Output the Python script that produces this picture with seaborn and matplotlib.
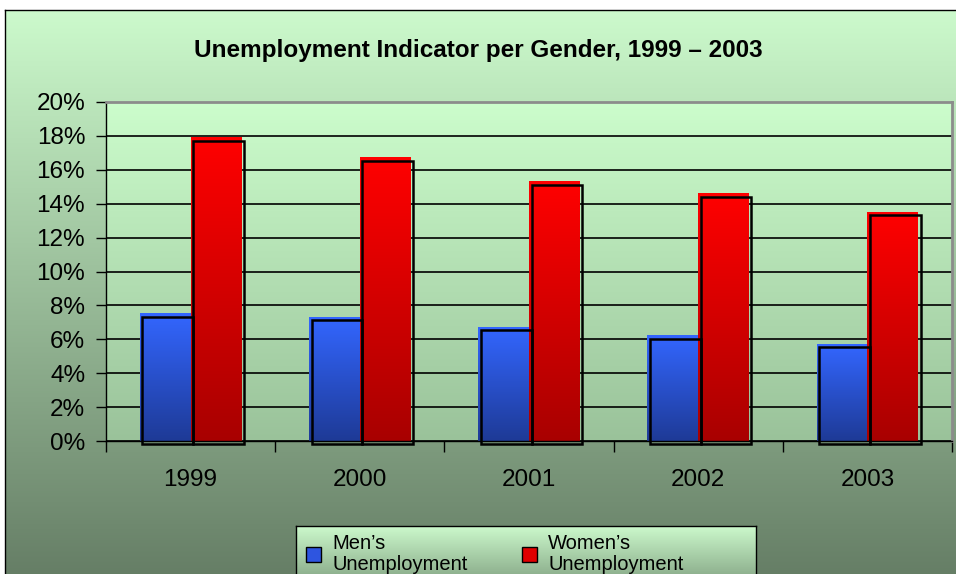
import numpy as np
import pandas as pd
import matplotlib
matplotlib.use("Agg")
import matplotlib.pyplot as plt
import seaborn as sns
from matplotlib import transforms
from matplotlib.colors import LinearSegmentedColormap
from matplotlib.patches import Patch, Rectangle

# data
years = ["1999", "2000", "2001", "2002", "2003"]
men = [7.5, 7.3, 6.7, 6.2, 5.7]
women = [17.9, 16.7, 15.3, 14.6, 13.5]
series = ["Men’s\nUnemployment", "Women’s\nUnemployment"]
y_ticks = [0, 2, 4, 6, 8, 10, 12, 14, 16, 18, 20]
title = "Unemployment Indicator per Gender, 1999 – 2003"

df = pd.DataFrame({
    "year": years * 2,
    "rate": men + women,
    "gender": [series[0]] * len(years) + [series[1]] * len(years),
})

sns.set_style("white")
plt.rcParams["font.family"] = ["Liberation Sans", "DejaVu Sans"]
plt.rcParams["text.color"] = "black"
plt.rcParams["xtick.color"] = "black"
plt.rcParams["ytick.color"] = "black"

W, H = 956, 574
fig = plt.figure(figsize=(W / 100, H / 100), dpi=100)
fig.patch.set_facecolor("white")


def px(x0, y0, x1, y1):
    # pixel box (top-left origin) -> figure fraction rect
    return [x0 / W, 1 - y1 / H, (x1 - x0) / W, (y1 - y0) / H]


def gradient(ax, top, bottom, extent=(0, 1, 0, 1), **kw):
    cmap = LinearSegmentedColormap.from_list("g", [top, bottom])
    return ax.imshow(np.linspace(0, 1, 256).reshape(-1, 1), cmap=cmap,
                     aspect="auto", extent=extent, interpolation="bicubic", **kw)


# chart area background
bg = fig.add_axes(px(5, 10, 960, 580), zorder=-2)
gradient(bg, "#CCFACC", "#657D65")
bg.set_xticks([])
bg.set_yticks([])
for s in bg.spines.values():
    s.set_color("black")
    s.set_linewidth(1)

# plot area background
pa = fig.add_axes(px(106, 102, 952, 441), zorder=-1)
gradient(pa, "#CCFDCC", "#9AC29A")
pa.axis("off")

ax = fig.add_axes(px(106, 102, 952, 441))
ax.patch.set_alpha(0)
sns.barplot(data=df, x="year", y="rate", hue="gender",
            palette=["#3366FF", "#FF0000"], width=0.6, saturation=1,
            legend=False, ax=ax)

# gradient fills + offset black outlines
shadow = transforms.offset_copy(ax.transData, fig=fig, x=2.5, y=-3, units="dots")
for bar in list(ax.patches):
    x, w, h = bar.get_x(), bar.get_width(), bar.get_height()
    c = x + w / 2
    if c < round(c):
        top, bottom = "#3366FF", "#1E3A96"
    else:
        top, bottom = "#FF0000", "#A80000"
    bar.set_facecolor("none")
    bar.set_edgecolor("none")
    gradient(ax, top, bottom, extent=(x, x + w, 0, h), zorder=2)
    ax.add_patch(Rectangle((x, 0), w, h, fill=False, ec="black", lw=1.8,
                           transform=shadow, zorder=3, clip_on=False))

ax.set_xlim(-0.5, len(years) - 0.5)
ax.set_ylim(0, 20)
ax.set_yticks(y_ticks)
ax.set_yticklabels([f"{v}%" for v in y_ticks])
ax.set_xlabel("")
ax.set_ylabel("")
ax.yaxis.grid(True, color="black", lw=1.2)
ax.set_axisbelow(True)
ax.tick_params(axis="y", left=True, direction="out", length=7, width=1,
               pad=8, labelsize=17.5, color="black", labelcolor="black")
ax.tick_params(axis="x", length=0, pad=20, labelsize=17.5, labelcolor="black")
ax.set_xticks(np.arange(-0.5, len(years)), minor=True)
ax.tick_params(axis="x", which="minor", bottom=True, direction="out",
               length=8, width=1, color="black")
for side in ["left", "bottom"]:
    ax.spines[side].set_color("black")
    ax.spines[side].set_linewidth(1)
for side in ["top", "right"]:
    ax.spines[side].set_color("#8C8C8C")
    ax.spines[side].set_linewidth(2)

fig.text(0.5, 1 - 50 / H, title, ha="center", va="center",
         fontsize=17.5, fontweight="bold", color="black")

# legend box
lb = fig.add_axes(px(296, 526, 756, 600), zorder=1)
gradient(lb, "#CCF9CC", "#6F8C6F")
lb.set_xticks([])
lb.set_yticks([])
for s in lb.spines.values():
    s.set_color("black")
    s.set_linewidth(1)

handles = [Patch(facecolor="#2E55E0", edgecolor="black"),
           Patch(facecolor="#E00000", edgecolor="black")]
leg = fig.legend(handles, series, loc="upper left",
                 bbox_to_anchor=(296 / W, 1 - 524 / H), frameon=False, ncol=2,
                 fontsize=14.5, handlelength=0.75, handleheight=0.75,
                 handletextpad=0.55, columnspacing=2.7, borderpad=0.5,
                 borderaxespad=0)
for t in leg.get_texts():
    t.set_linespacing(1.1)
    t.set_color("black")

fig.savefig("out.png", dpi=100)
